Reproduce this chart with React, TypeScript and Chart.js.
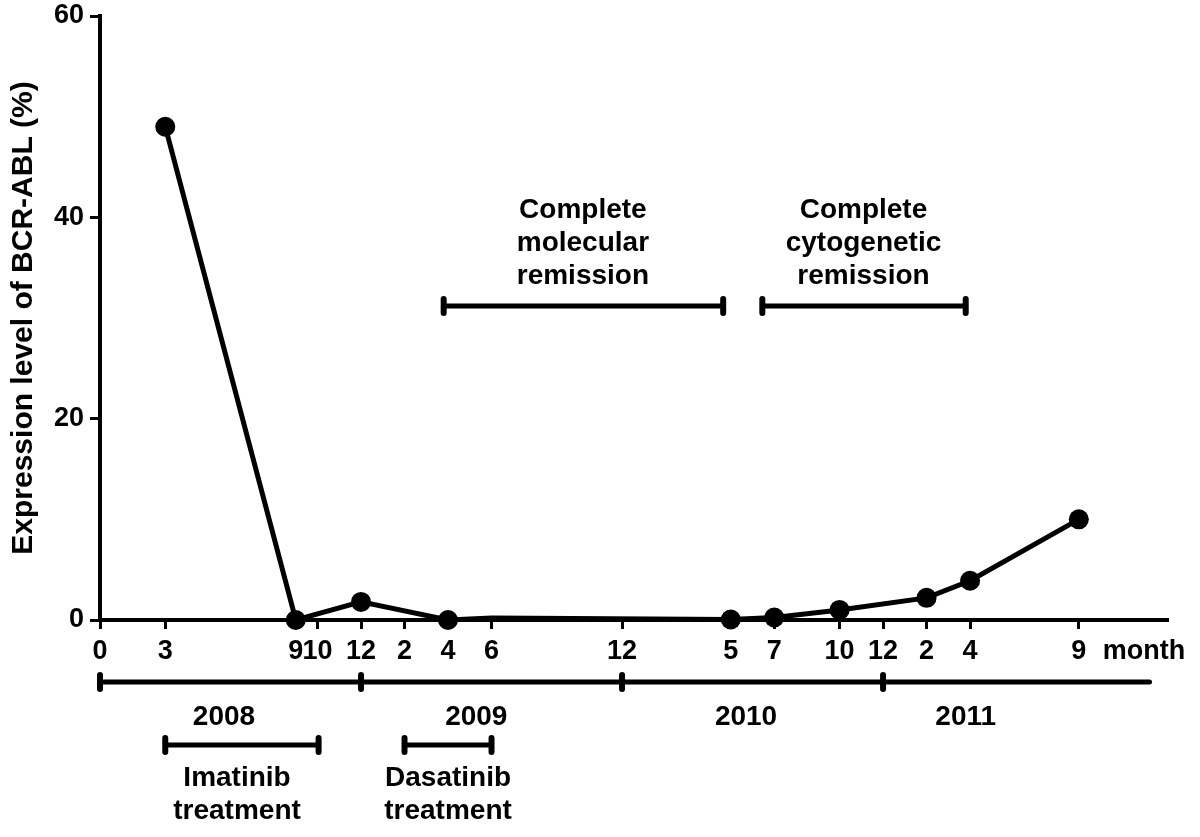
import React, { useEffect, useRef } from "react";
import { Chart, registerables } from "chart.js";

Chart.register(...registerables);

// ---- data ----
const sampleMonths = [3, 9, 12, 16, 18, 29, 31, 34, 38, 40, 45];
const bcrAblPercent = [49, 0, 1.8, 0, 0.2, 0.05, 0.25, 1.0, 2.2, 3.9, 10];
const showMarker = [true, true, true, true, false, true, true, true, true, true, true];

const tickMonths = [0, 3, 9, 10, 12, 14, 16, 18, 24, 29, 31, 34, 36, 38, 40, 45];
const tickLabels = ["0", "3", "9", "10", "12", "2", "4", "6", "12", "5", "7", "10", "12", "2", "4", "9"];
const yTickValues = [0, 20, 40, 60];
const xUnitLabel = "month";
const xUnitLabelMonth = 46.1;
const xMax = 49.1;

const yearBoundaries = [0, 12, 24, 36];
const yearAxisEnd = 48.25;
const yearNames = ["2008", "2009", "2010", "2011"];
const yearLabelMonths = [5.7, 17.3, 29.7, 39.8];

const treatmentNames = [["Imatinib", "treatment"], ["Dasatinib", "treatment"]];
const treatmentStart = [3, 14];
const treatmentEnd = [10.05, 18];
const treatmentLabelMonths = [6.3, 16];

const remissionNames = [["Complete", "molecular", "remission"], ["Complete", "cytogenetic", "remission"]];
const remissionStart = [15.8, 30.45];
const remissionEnd = [28.65, 39.8];
const remissionLabelMonths = [22.2, 35.1];
const remissionLevel = 31.2;

const yTitle = "Expression level of BCR-ABL (%)";

const FONT = '"Liberation Sans", Arial, Helvetica, sans-serif';

function drawBar(ctx: CanvasRenderingContext2D, x1: number, x2: number, y: number) {
  ctx.save();
  ctx.strokeStyle = "#000";
  ctx.lineCap = "round";
  ctx.lineWidth = 5;
  ctx.beginPath();
  ctx.moveTo(x1, y);
  ctx.lineTo(x2, y);
  ctx.stroke();
  ctx.lineWidth = 6;
  for (const x of [x1, x2]) {
    ctx.beginPath();
    ctx.moveTo(x, y - 7);
    ctx.lineTo(x, y + 7);
    ctx.stroke();
  }
  ctx.restore();
}

const annotationPlugin = {
  id: "annotations",
  afterDatasetsDraw(chart: any) {
    const ctx: CanvasRenderingContext2D = chart.ctx;
    const xs = chart.scales.x;
    const ys = chart.scales.y;
    const bottom = chart.chartArea.bottom;
    const px = (m: number) => xs.getPixelForValue(m);

    ctx.save();
    ctx.fillStyle = "#000";
    ctx.textBaseline = "middle";

    // unit label on the month axis
    ctx.textAlign = "left";
    ctx.font = `bold 27px ${FONT}`;
    ctx.fillText(xUnitLabel, px(xUnitLabelMonth), bottom + 32);

    // year axis
    const yearY = bottom + 62;
    ctx.strokeStyle = "#000";
    ctx.lineCap = "round";
    ctx.lineWidth = 5;
    ctx.beginPath();
    ctx.moveTo(px(0), yearY);
    ctx.lineTo(px(yearAxisEnd), yearY);
    ctx.stroke();
    ctx.lineWidth = 6;
    for (const b of yearBoundaries) {
      ctx.beginPath();
      ctx.moveTo(px(b), yearY - 7);
      ctx.lineTo(px(b), yearY + 7);
      ctx.stroke();
    }
    ctx.font = `bold 28px ${FONT}`;
    ctx.textAlign = "center";
    yearNames.forEach((n, i) => ctx.fillText(n, px(yearLabelMonths[i]), bottom + 97));

    // treatments
    treatmentNames.forEach((lines, i) => {
      drawBar(ctx, px(treatmentStart[i]), px(treatmentEnd[i]), bottom + 125);
      lines.forEach((t, j) => ctx.fillText(t, px(treatmentLabelMonths[i]), bottom + 158 + j * 33));
    });

    // remissions
    const ry = ys.getPixelForValue(remissionLevel);
    remissionNames.forEach((lines, i) => {
      drawBar(ctx, px(remissionStart[i]), px(remissionEnd[i]), ry);
      lines.forEach((t, j) => ctx.fillText(t, px(remissionLabelMonths[i]), ry - 96 + j * 33));
    });
    ctx.restore();
  },
};

export default function App() {
  const ref = useRef<HTMLCanvasElement>(null);
  useEffect(() => {
    if (!ref.current) return;
    const chart = new Chart(ref.current, {
      type: "line",
      data: {
        datasets: [
          {
            data: sampleMonths.map((m, i) => ({ x: m, y: bcrAblPercent[i] })),
            borderColor: "#000",
            backgroundColor: "#000",
            borderWidth: 5,
            pointRadius: showMarker.map((s) => (s ? 10 : 0)),
            pointHoverRadius: showMarker.map((s) => (s ? 10 : 0)),
            pointBackgroundColor: "#000",
            pointBorderColor: "#000",
            pointBorderWidth: 0,
            tension: 0,
            clip: false as any,
          },
        ],
      },
      options: {
        responsive: false,
        animation: false,
        devicePixelRatio: 1,
        layout: { padding: { top: 16, right: 32, left: 0, bottom: 0 } },
        plugins: { legend: { display: false }, tooltip: { enabled: false } },
        scales: {
          x: {
            type: "linear",
            min: 0,
            max: xMax,
            border: { display: true, width: 4, color: "#000" },
            grid: { display: true, drawOnChartArea: false, drawTicks: true, tickLength: 9, tickWidth: 3, color: "#000" },
            ticks: {
              autoSkip: false,
              maxRotation: 0,
              minRotation: 0,
              padding: 6,
              color: "#000",
              font: { family: FONT, size: 27, weight: "bold" },
              callback: (v: any) => {
                const i = tickMonths.indexOf(Number(v));
                return i >= 0 ? tickLabels[i] : "";
              },
            },
            afterBuildTicks: (scale: any) => {
              scale.ticks = tickMonths.map((v) => ({ value: v }));
            },
            afterFit: (scale: any) => {
              scale.height = 217;
              scale.paddingLeft = 0;
              scale.paddingRight = 0;
            },
          },
          y: {
            type: "linear",
            min: 0,
            max: 60,
            border: { display: true, width: 4, color: "#000" },
            grid: { display: true, drawOnChartArea: false, drawTicks: true, tickLength: 10, tickWidth: 3, color: "#000" },
            ticks: {
              padding: 6,
              color: "#000",
              font: { family: FONT, size: 27, weight: "bold" },
            },
            afterBuildTicks: (scale: any) => {
              scale.ticks = yTickValues.map((v) => ({ value: v }));
            },
            title: {
              display: true,
              text: yTitle,
              color: "#000",
              font: { family: FONT, size: 30, weight: "bold" },
              padding: { top: 6, bottom: 0 },
            },
            afterFit: (scale: any) => {
              scale.width = 100;
              scale.paddingTop = 0;
              scale.paddingBottom = 0;
            },
          },
        },
      },
      plugins: [annotationPlugin],
    } as any);
    return () => chart.destroy();
  }, []);
  return (
    <div style={{ position: "absolute", left: 0, top: 0, width: 1200, height: 837, background: "#fff" }}>
      <canvas ref={ref} width={1200} height={837} style={{ display: "block", width: 1200, height: 837 }} />
    </div>
  );
}
